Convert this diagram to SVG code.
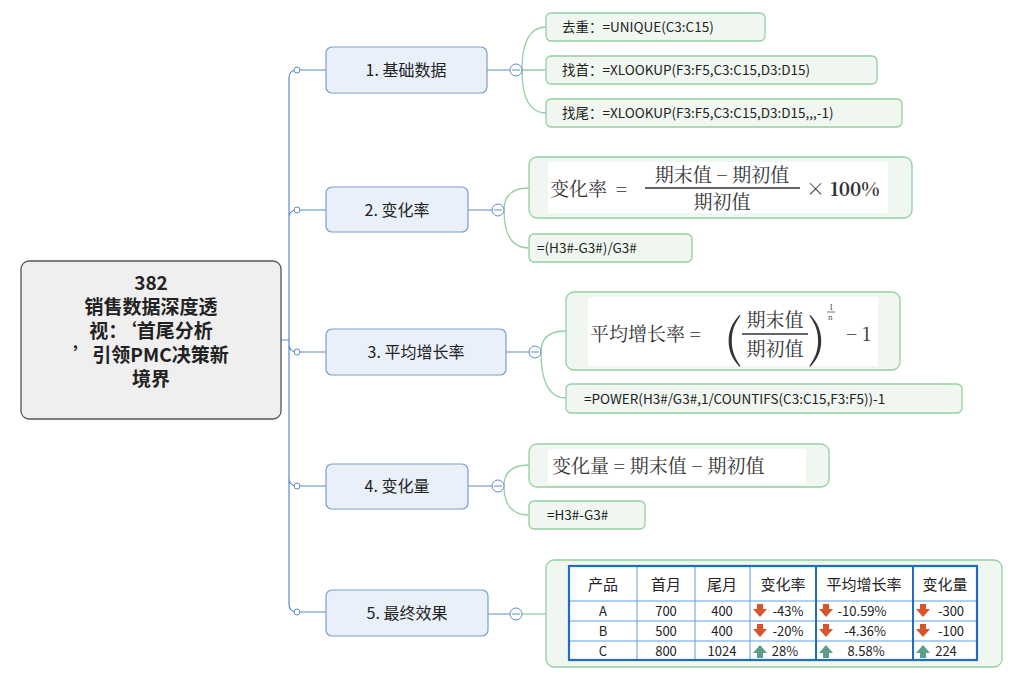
<svg xmlns="http://www.w3.org/2000/svg" width="1024" height="680" viewBox="0 0 1024 680">
<style>
.t{font-family:"Noto Sans CJK SC","Liberation Sans",sans-serif;fill:#222}
.br{fill:#e9f0f9;stroke:#7c9fca;stroke-width:1.2}
.lf{fill:#f0f7f1;stroke:#93cfa0;stroke-width:1.3}
.ln{fill:none;stroke:#5d8bc4;stroke-width:1.2}
.gl{fill:none;stroke:#93cfa0;stroke-width:1.3}
.dot{fill:#fff;stroke:#5d8bc4;stroke-width:1}
.col{fill:#fff;stroke:#5d8bc4;stroke-width:1}
.f{font-family:"Noto Serif CJK SC","Liberation Serif","Noto Sans CJK SC",serif;fill:#333}
.tb{font-family:"Noto Sans CJK SC","Liberation Mono",monospace;font-size:13px;fill:#222;text-anchor:middle}
.dn{fill:#d9532b}.up{fill:#5e9c8b}
</style>
<defs>
<path id="da" d="M-3,-7h6v5h4l-7,8l-7,-8h4z"/>
<path id="ua" d="M-3,7h6v-5h4l-7,-8l-7,8h4z"/>
</defs>
<g id="connectors">
<path class="ln" d="M281,340H289M289,78V604M289,78Q289,70 297,70M289,218Q289,210 297,210M289,344Q289,352 297,352M289,478Q289,486 297,486M289,604Q289,612 297,612"/>
<path class="ln" d="M297,70H326M297,210H326M297,352H326M297,486H326M297,612H326"/>
<path class="ln" d="M487,70H510M468,210H492M506,352H529M468,486H492M488,614H510"/>
<path class="gl" d="M522,70Q522,27 546,27M522,70H546M522,70Q522,113 546,113"/>
<path class="gl" d="M504,210Q504,188 529,188M504,210Q504,248 529,248"/>
<path class="gl" d="M541,352Q541,331 566,331M541,352Q541,398 566,398"/>
<path class="gl" d="M504,486Q504,465 529,465M504,486Q504,515 529,515"/>
<path class="gl" d="M522,614H546"/>
<circle class="dot" cx="297" cy="70" r="3"/><circle class="dot" cx="297" cy="210" r="3"/><circle class="dot" cx="297" cy="352" r="3"/><circle class="dot" cx="297" cy="486" r="3"/><circle class="dot" cx="297" cy="612" r="3"/>
<g><circle class="col" cx="516" cy="70" r="6"/><path d="M512,70h8" stroke="#5d8bc4"/></g>
<g><circle class="col" cx="498" cy="210" r="6"/><path d="M494,210h8" stroke="#5d8bc4"/></g>
<g><circle class="col" cx="535" cy="352" r="6"/><path d="M531,352h8" stroke="#5d8bc4"/></g>
<g><circle class="col" cx="498" cy="486" r="6"/><path d="M494,486h8" stroke="#5d8bc4"/></g>
<g><circle class="col" cx="516" cy="614" r="6"/><path d="M512,614h8" stroke="#5d8bc4"/></g>
</g>
<g id="root">
<rect x="21" y="261" width="260" height="158" rx="8" fill="#efefef" stroke="#555" stroke-width="1.3"/>
<g class="t" font-size="19" font-weight="bold" text-anchor="middle">
<text x="151" y="290">382</text><text x="151" y="314">销售数据深度透</text><text x="151" y="338">视：‘首尾分析</text><text x="151" y="362">’引领PMC决策新</text><text x="151" y="386">境界</text></g>
</g>
<g id="b1"><rect class="br" x="326" y="47" width="161" height="46" rx="6"/><text class="t" x="406" y="76" font-size="16" text-anchor="middle">1. 基础数据</text></g>
<g id="b2"><rect class="br" x="326" y="187" width="142" height="45" rx="6"/><text class="t" x="397" y="216" font-size="16" text-anchor="middle">2. 变化率</text></g>
<g id="b3"><rect class="br" x="326" y="329" width="180" height="46" rx="6"/><text class="t" x="416" y="358" font-size="16" text-anchor="middle">3. 平均增长率</text></g>
<g id="b4"><rect class="br" x="326" y="464" width="142" height="45" rx="6"/><text class="t" x="397" y="492" font-size="16" text-anchor="middle">4. 变化量</text></g>
<g id="b5"><rect class="br" x="326" y="590" width="162" height="46" rx="6"/><text class="t" x="407" y="619" font-size="16" text-anchor="middle">5. 最终效果</text></g>
<g id="l11"><rect class="lf" x="546" y="13" width="219" height="28" rx="5"/><text class="t" x="562" y="32" font-size="13.5">去重：=UNIQUE(C3:C15)</text></g>
<g id="l12"><rect class="lf" x="546" y="56" width="331" height="28" rx="5"/><text class="t" x="562" y="75" font-size="13.5">找首：=XLOOKUP(F3:F5,C3:C15,D3:D15)</text></g>
<g id="l13"><rect class="lf" x="546" y="99" width="356" height="28" rx="5"/><text class="t" x="562" y="118" font-size="13.5">找尾：=XLOOKUP(F3:F5,C3:C15,D3:D15,,,-1)</text></g>
<g id="l21"><rect class="lf" x="529" y="157" width="383" height="61" rx="8"/><rect x="548" y="162" width="340" height="51" fill="#fff"/>
<text class="f" x="550" y="196" font-size="19">变化率 <tspan dx="4">=</tspan></text>
<text class="f" x="722" y="182" font-size="19" text-anchor="middle">期末值 − 期初值</text>
<path d="M645,188H800" stroke="#333" stroke-width="1.3"/>
<text class="f" x="722" y="209" font-size="19" text-anchor="middle">期初值</text>
<text class="f" x="806" y="196" font-size="19">× <tspan font-weight="bold">100%</tspan></text></g>
<g id="l22"><rect class="lf" x="529" y="234" width="163" height="28" rx="5"/><text class="t" x="537" y="253" font-size="13.5">=(H3#-G3#)/G3#</text></g>
<g id="l31"><rect class="lf" x="566" y="292" width="334" height="78" rx="8"/><rect x="588" y="297" width="290" height="69" fill="#fff"/>
<text class="f" x="590" y="341" font-size="19">平均增长率 =</text>
<text class="f" x="724" y="356" font-size="50" font-weight="300">(</text>
<text class="f" x="775" y="327" font-size="19" text-anchor="middle">期末值</text>
<path d="M742,334H808" stroke="#333" stroke-width="1.3"/>
<text class="f" x="775" y="356" font-size="19" text-anchor="middle">期初值</text>
<text class="f" x="808" y="356" font-size="50" font-weight="300">)</text>
<text class="f" x="829" y="310" font-size="8">1</text><path d="M827,312H835" stroke="#333" stroke-width="0.7"/><text class="f" x="828" y="320" font-size="7">n</text>
<text class="f" x="846" y="341" font-size="19">− 1</text></g>
<g id="l32"><rect class="lf" x="566" y="384" width="396" height="29" rx="5"/><text class="t" x="584" y="404" font-size="13.5">=POWER(H3#/G3#,1/COUNTIFS(C3:C15,F3:F5))-1</text></g>
<g id="l41"><rect class="lf" x="529" y="444" width="300" height="43" rx="8"/><rect x="548" y="449" width="258" height="35" fill="#fff"/>
<text class="f" x="552" y="473" font-size="19">变化量 = 期末值 − 期初值</text></g>
<g id="l42"><rect class="lf" x="529" y="501" width="116" height="28" rx="5"/><text class="t" x="547" y="520" font-size="13.5">=H3#-G3#</text></g>
<g id="l51"><rect class="lf" x="546" y="560" width="456" height="107" rx="8"/>
<rect x="569" y="566" width="408" height="94" fill="#fff"/>
<path d="M569,601H977M569,621H977M569,641H977M637,566V660M695,566V660M750,566V660" stroke="#5aa0e0" stroke-width="1"/>
<path d="M816,566V660M913,566V660" stroke="#1f6cc0" stroke-width="2"/>
<rect x="569" y="566" width="408" height="94" fill="none" stroke="#1f6cc0" stroke-width="2.2"/>
<g class="tb"><text x="603" y="590" style="font-size:15px">产品</text><text x="666" y="590" style="font-size:15px">首月</text><text x="722" y="590" style="font-size:15px">尾月</text><text x="783" y="590" style="font-size:15px">变化率</text><text x="864" y="590" style="font-size:15px">平均增长率</text><text x="945" y="590" style="font-size:15px">变化量</text></g>
<g class="tb"><text x="603" y="616">A</text><text x="666" y="616">700</text><text x="722" y="616">400</text>
<text x="603" y="636">B</text><text x="666" y="636">500</text><text x="722" y="636">400</text>
<text x="603" y="656">C</text><text x="666" y="656">800</text><text x="722" y="656">1024</text>
<text x="788" y="616">-43%</text><text x="862" y="616">-10.59%</text><text x="951" y="616">-300</text>
<text x="788" y="636">-20%</text><text x="865" y="636">-4.36%</text><text x="951" y="636">-100</text>
<text x="785" y="656">28%</text><text x="866" y="656">8.58%</text><text x="946" y="656">224</text></g>
<use href="#da" class="dn" x="760" y="611"/><use href="#da" class="dn" x="826" y="611"/><use href="#da" class="dn" x="923" y="611"/>
<use href="#da" class="dn" x="760" y="631"/><use href="#da" class="dn" x="826" y="631"/><use href="#da" class="dn" x="923" y="631"/>
<use href="#ua" class="up" x="760" y="651"/><use href="#ua" class="up" x="826" y="651"/><use href="#ua" class="up" x="923" y="651"/>
</g>
</svg>
